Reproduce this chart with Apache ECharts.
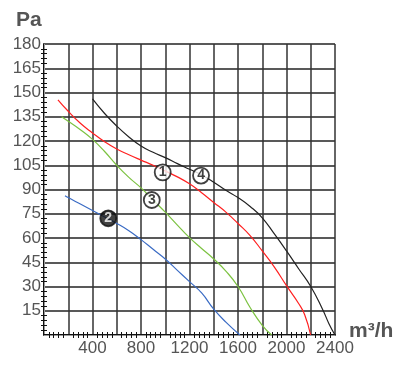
<!DOCTYPE html>
<html><head><meta charset="utf-8">
<script src="https://cdn.jsdelivr.net/npm/echarts@6/dist/echarts.min.js"></script>
<style>html,body{margin:0;padding:0;background:#fff}#c{width:415px;height:365px}</style>
</head><body><div id="c"></div>
<script>
const xTicks = [400, 800, 1200, 1600, 2000, 2400];
const yTicks = [15, 30, 45, 60, 75, 90, 105, 120, 135, 150, 165, 180];
const curve4 = [[400,146],[500,137],[600,129.2],[700,122.5],[800,116.9],[900,113],[1000,109.7],[1100,106],[1200,102.5],[1300,99],[1400,94.5],[1500,89.5],[1600,85],[1700,79.5],[1800,72.5],[1900,62.5],[2000,52],[2100,41],[2200,30],[2300,15.5],[2350,7],[2400,0]];
const curve1 = [[115,145.5],[200,138.4],[300,131],[400,125],[500,119.5],[600,115],[700,111.5],[800,108.2],[900,105],[1000,101.5],[1100,97.8],[1200,93.5],[1300,88],[1400,82],[1500,76],[1600,69],[1700,61.5],[1800,52],[1900,42],[2000,30.5],[2100,19.5],[2150,12.5],[2199,0]];
const curve3 = [[145,135],[200,132.2],[300,127],[400,121],[500,113.5],[600,105],[700,97.5],[800,91],[900,83.5],[1000,76],[1100,68],[1200,60.2],[1300,53.5],[1400,47],[1500,39.5],[1600,30],[1700,17],[1800,6],[1878,0]];
const curve2 = [[173,86.2],[200,85],[300,81],[400,77],[500,73],[600,69],[700,64.5],[800,59],[900,53],[1000,47],[1100,40],[1200,33],[1300,26],[1400,16],[1500,8],[1616,0]];
const markerLabels = ['1', '2', '3', '4'];
const markerX = [979, 530, 889, 1295];
const markerY = [100.6, 72.2, 83.5, 98.6];

const chart = echarts.init(document.getElementById('c'));
const font = 'Liberation Sans, Arial, sans-serif';
const lineS = (data, color) => ({type:'line', data, smooth:0.5, showSymbol:false, lineStyle:{color, width:1.2}, z:3, xAxisIndex:0, yAxisIndex:0});
const markers = markerLabels.map((t,i)=>({
  value:[markerX[i], markerY[i]],
  itemStyle:{color: t==='2' ? '#111' : '#fff', borderColor:'#111', borderWidth:1.8},
  label:{show:true, formatter:t, position:'inside', color: t==='2' ? '#fff' : '#111', fontSize:14, fontWeight:'bold', fontFamily:font}
}));
chart.setOption({
  animation:false,
  backgroundColor:'#fff',
  grid:{left:44, right:80, top:44, bottom:30},
  graphic:[
    {type:'text', left:16, top:10, style:{text:'Pa', fontSize:21, fontWeight:'bold', fill:'#555', fontFamily:font}},
    {type:'text', left:349, top:321, style:{text:'m³/h', fontSize:21, fontWeight:'bold', fill:'#555', fontFamily:font}}
  ],
  xAxis:[{
    type:'value', min:0, max:2400, interval:200, position:'bottom',
    axisLine:{show:true, lineStyle:{color:'#111', width:2}},
    axisTick:{show:false},
    minorTick:{show:true, splitNumber:5, length:3, lineStyle:{color:'#111', width:1}},
    splitLine:{show:true, lineStyle:{color:'#333', width:1.5}},
    axisLabel:{color:'#555', fontSize:17, fontFamily:font, margin:5,
      formatter:v => xTicks.includes(v) ? String(v) : ''}
  },{
    type:'value', min:0, max:2400, interval:200, position:'top',
    axisLine:{show:true, lineStyle:{color:'#999', width:1}},
    axisTick:{show:false},
    minorTick:{show:true, splitNumber:5, length:3, lineStyle:{color:'#111', width:1}},
    axisLabel:{show:false}, splitLine:{show:false}
  }],
  yAxis:[{
    type:'value', min:0, max:180, interval:15, position:'left',
    axisLine:{show:true, lineStyle:{color:'#111', width:2}},
    axisTick:{show:false},
    minorTick:{show:true, splitNumber:5, length:3, lineStyle:{color:'#111', width:1}},
    splitLine:{show:true, lineStyle:{color:'#222', width:1.5}},
    axisLabel:{color:'#555', fontSize:17, fontFamily:font, margin:3,
      formatter:v => yTicks.includes(v) ? String(v) : ''}
  },{
    type:'value', min:0, max:180, interval:15, position:'right',
    axisLine:{show:true, lineStyle:{color:'#999', width:1}},
    axisTick:{show:false},
    minorTick:{show:true, splitNumber:5, length:3, lineStyle:{color:'#111', width:1}},
    axisLabel:{show:false}, splitLine:{show:false}
  }],
  series:[
    lineS(curve4, '#222'),
    lineS(curve1, '#ff2020'),
    lineS(curve3, '#7cc241'),
    lineS(curve2, '#3a6bc4'),
    {type:'scatter', data:markers, symbol:'circle', symbolSize:16, z:5, xAxisIndex:0, yAxisIndex:0}
  ]
});
</script></body></html>
